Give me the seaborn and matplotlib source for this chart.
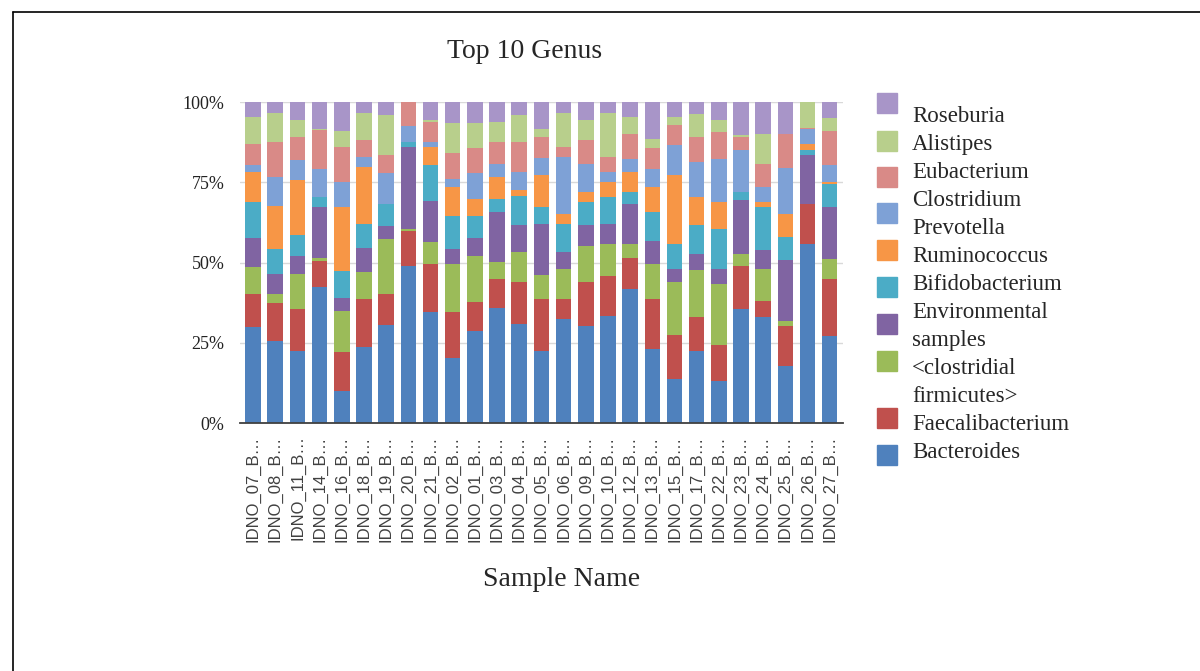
import matplotlib
matplotlib.use("Agg")
import matplotlib.pyplot as plt
from matplotlib.patches import Rectangle
from matplotlib.lines import Line2D
from matplotlib.ticker import PercentFormatter
import pandas as pd
import seaborn as sns

# sample ids along the x axis (as shown, truncated)
samples = ["07", "08", "11", "14", "16", "18", "19", "20", "21", "02", "01", "03", "04", "05",
           "06", "09", "10", "12", "13", "15", "17", "22", "23", "24", "25", "26", "27"]
tick_labels = ["IDNO_%s_B\u2026" % s for s in samples]

# relative abundance (%), bottom of stack first
bacteroides = [29.8, 25.6, 22.4, 42.3, 10.0, 23.6, 30.7, 49.0, 34.5, 20.2, 28.8, 36.0, 30.8, 22.5,
               32.5, 30.3, 33.5, 41.7, 23.1, 13.7, 22.5, 13.1, 35.5, 32.9, 17.9, 55.9, 27.2]
faecalibacterium = [10.4, 11.9, 13.1, 8.3, 12.0, 15.0, 9.5, 11.0, 15.0, 14.3, 8.8, 9.0, 13.1, 16.2,
                    6.2, 13.6, 12.4, 9.9, 15.6, 13.6, 10.4, 11.1, 13.6, 5.2, 12.3, 12.5, 17.8]
clostridial = [8.3, 2.7, 10.9, 1.0, 12.9, 8.4, 17.1, 0.5, 6.8, 15.0, 14.5, 5.2, 9.4, 7.3,
               9.4, 11.4, 9.9, 4.2, 10.9, 16.6, 14.7, 19.2, 3.6, 10.0, 1.7, 0.0, 6.2]
environmental = [9.3, 6.2, 5.7, 15.6, 4.1, 7.7, 4.2, 25.6, 13.0, 4.8, 5.7, 15.5, 8.3, 16.1,
                 5.2, 6.3, 6.3, 12.5, 7.3, 4.2, 5.2, 4.7, 16.7, 5.7, 18.8, 15.2, 16.1]
bifidobacterium = [11.0, 7.8, 6.4, 3.2, 8.5, 7.3, 6.9, 1.6, 11.2, 10.4, 6.9, 4.2, 9.3, 5.2,
                   8.8, 7.2, 8.3, 3.7, 8.8, 7.8, 8.8, 12.4, 2.6, 13.5, 7.2, 1.5, 7.3]
ruminococcus = [9.4, 13.6, 17.2, 0.0, 19.7, 17.9, 0.0, 0.0, 5.7, 8.8, 5.2, 6.8, 1.7, 10.0,
                3.1, 3.2, 4.7, 6.3, 7.8, 21.4, 8.9, 8.3, 0.0, 1.5, 7.3, 2.0, 0.5]
prevotella = [2.1, 8.8, 6.2, 8.8, 7.8, 3.1, 9.4, 5.0, 1.5, 2.7, 7.9, 4.1, 5.7, 5.2,
              17.8, 8.8, 3.1, 3.9, 5.7, 9.3, 10.9, 13.5, 13.0, 4.7, 14.2, 4.7, 5.3]
eubacterium = [6.6, 11.1, 7.4, 12.1, 11.0, 5.2, 5.7, 7.3, 6.3, 7.9, 7.8, 6.8, 9.3, 6.7,
               3.1, 7.4, 4.7, 8.0, 6.4, 6.2, 7.8, 8.4, 4.2, 7.3, 10.8, 0.2, 10.5]
alistipes = [8.6, 8.9, 5.1, 0.5, 4.9, 8.4, 12.5, 0.0, 0.5, 9.3, 7.8, 6.3, 8.4, 2.6,
             10.5, 6.2, 13.7, 5.2, 3.1, 2.6, 7.3, 3.7, 0.5, 9.3, 0.0, 8.0, 4.1]
roseburia = [4.5, 3.4, 5.6, 8.2, 9.1, 3.4, 4.0, 0.0, 5.5, 6.6, 6.6, 6.1, 4.0, 8.2,
             3.4, 5.6, 3.4, 4.6, 11.3, 4.6, 3.5, 5.6, 10.3, 9.9, 9.8, 0.0, 5.0]

genera = ["Bacteroides", "Faecalibacterium", "clostridial", "Environmental", "Bifidobacterium",
          "Ruminococcus", "Prevotella", "Eubacterium", "Alistipes", "Roseburia"]
colors = ["#4f81bd", "#c0504d", "#9bbb59", "#8064a2", "#4bacc6",
          "#f79646", "#7ea1d6", "#d98a87", "#b8cf8c", "#a895c8"]

# legend text lines (top to bottom), as wrapped in the original
legend_lines = ["Roseburia", "Alistipes", "Eubacterium", "Clostridium", "Prevotella",
                "Ruminococcus", "Bifidobacterium", "Environmental", "samples",
                "<clostridial", "firmicutes>", "Faecalibacterium", "Bacteroides"]

df = pd.DataFrame({g: v for g, v in zip(genera, [bacteroides, faecalibacterium, clostridial,
                   environmental, bifidobacterium, ruminococcus, prevotella,
                   eubacterium, alistipes, roseburia])}, index=tick_labels)
df = df.div(df.sum(axis=1), axis=0)
cum = df.cumsum(axis=1)

sns.set_style("white")
plt.rcParams["font.family"] = ["Liberation Serif", "DejaVu Serif"]

W, H = 1200, 671
fig = plt.figure(figsize=(12, 6.71), dpi=100)
ax = fig.add_axes([240 / W, 1 - 423 / H, 603 / W, (423 - 102.3) / H])

# draw cumulative totals from the top genus down so lower ones sit in front
for g, c in reversed(list(zip(genera, colors))):
    sns.barplot(x=cum.index, y=cum[g].values, color=c, saturation=1, width=0.7,
                linewidth=0, ax=ax, zorder=3)

ax.set_xlim(-0.59, 26.6)
ax.set_ylim(0, 1)
ax.set_yticks([0, 0.25, 0.5, 0.75, 1.0])
ax.yaxis.set_major_formatter(PercentFormatter(1.0, decimals=0))
ax.grid(axis="y", color="#d9d9d9", linewidth=1, zorder=0)
ax.grid(axis="x", visible=False)
for s in ["top", "right", "left"]:
    ax.spines[s].set_visible(False)
ax.spines["bottom"].set_color("#404040")
ax.spines["bottom"].set_linewidth(1.3)
ax.spines["bottom"].set_zorder(4)
ax.tick_params(axis="y", length=0, pad=11, labelsize=13, labelcolor="#222222")
ax.tick_params(axis="x", length=0, pad=9)
ax.set_xticks(range(len(tick_labels)))
ax.set_xticklabels(tick_labels, rotation=90, fontsize=12, color="#404040",
                   family=["Liberation Sans", "DejaVu Sans"])
ax.set_xlabel("")
ax.set_ylabel("")

fig.text(525 / W, 1 - 52 / H, "Top 10 Genus", ha="center", va="center", fontsize=20)
fig.text(562 / W, 1 - 580 / H, "Sample Name", ha="center", va="center", fontsize=20)

# legend: colour squares and wrapped names placed as in the original
icon_y = [103, 140.5, 176.7, 213, 250, 287, 324, 361, 418, 455]
for yc, c in zip(icon_y, reversed(colors)):
    fig.patches.append(Rectangle((877 / W, 1 - (yc + 10) / H), 20 / W, 20 / H,
                                 transform=fig.transFigure, color=c, figure=fig))
for i, line in enumerate(legend_lines):
    fig.text(912 / W, 1 - (116.7 + i * 27.95) / H, line, ha="left", va="center", fontsize=16.5)

# outer frame (top and left edges visible)
fig.lines.append(Line2D([13 / W, 13 / W], [0, 1 - 12 / H], transform=fig.transFigure,
                        color="black", linewidth=1.2))
fig.lines.append(Line2D([13 / W, 1], [1 - 12 / H, 1 - 12 / H], transform=fig.transFigure,
                        color="black", linewidth=1.2))

fig.savefig("out.png", dpi=100)
